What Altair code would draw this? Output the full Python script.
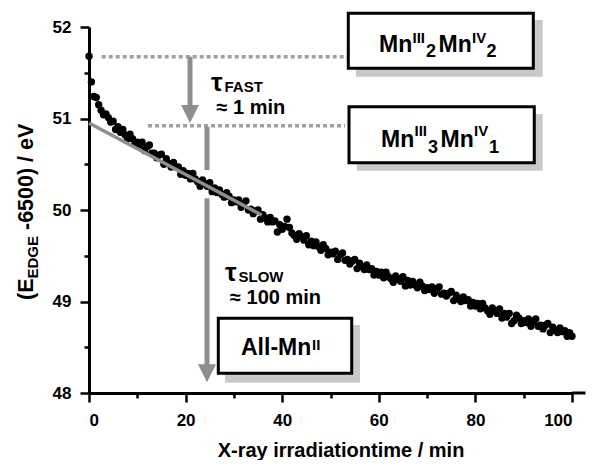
import altair as alt
import pandas as pd

# ---------------- data ----------------
time_min = [
    0.0, 0.5, 1.0, 1.5, 2.0, 2.5, 3.0, 3.5, 4.0, 4.5,
    5.0, 5.5, 6.0, 6.5, 7.0, 7.5, 8.0, 8.5, 9.0, 9.5,
    10.0, 10.5, 11.0, 11.5, 12.0, 12.5, 13.0, 13.5, 14.0, 14.5,
    15.0, 15.5, 16.0, 16.5, 17.0, 17.5, 18.0, 18.5, 19.0, 19.5,
    20.0, 20.5, 21.0, 21.5, 22.0, 22.5, 23.0, 23.5, 24.0, 24.5,
    25.0, 25.5, 26.0, 26.5, 27.0, 27.5, 28.0, 28.5, 29.0, 29.5,
    30.0, 30.5, 31.0, 31.5, 32.0, 32.5, 33.0, 33.5, 34.0, 34.5,
    35.0, 35.5, 36.0, 36.5, 37.0, 37.5, 38.0, 38.5, 39.0, 39.5,
    40.0, 40.5, 41.0, 41.5, 42.0, 42.5, 43.0, 43.5, 44.0, 44.5,
    45.0, 45.5, 46.0, 46.5, 47.0, 47.5, 48.0, 48.5, 49.0, 49.5,
    50.0, 50.5, 51.0, 51.5, 52.0, 52.5, 53.0, 53.5, 54.0, 54.5,
    55.0, 55.5, 56.0, 56.5, 57.0, 57.5, 58.0, 58.5, 59.0, 59.5,
    60.0, 60.5, 61.0, 61.5, 62.0, 62.5, 63.0, 63.5, 64.0, 64.5,
    65.0, 65.5, 66.0, 66.5, 67.0, 67.5, 68.0, 68.5, 69.0, 69.5,
    70.0, 70.5, 71.0, 71.5, 72.0, 72.5, 73.0, 73.5, 74.0, 74.5,
    75.0, 75.5, 76.0, 76.5, 77.0, 77.5, 78.0, 78.5, 79.0, 79.5,
    80.0, 80.5, 81.0, 81.5, 82.0, 82.5, 83.0, 83.5, 84.0, 84.5,
    85.0, 85.5, 86.0, 86.5, 87.0, 87.5, 88.0, 88.5, 89.0, 89.5,
    90.0, 90.5, 91.0, 91.5, 92.0, 92.5, 93.0, 93.5, 94.0, 94.5,
    95.0, 95.5, 96.0, 96.5, 97.0, 97.5, 98.0, 98.5, 99.0, 99.5,
    100.0,
]
e_edge = [
    51.68, 51.40, 51.24, 51.23, 51.15, 51.09, 51.04, 51.05, 51.01, 50.96,
    50.97, 50.88, 50.91, 50.85, 50.88, 50.82, 50.78, 50.83, 50.78, 50.72,
    50.74, 50.71, 50.74, 50.65, 50.69, 50.71, 50.62, 50.62, 50.57, 50.60,
    50.61, 50.50, 50.56, 50.51, 50.47, 50.52, 50.47, 50.47, 50.39, 50.43,
    50.38, 50.40, 50.34, 50.40, 50.34, 50.31, 50.26, 50.33, 50.29, 50.26,
    50.30, 50.20, 50.24, 50.19, 50.22, 50.17, 50.14, 50.19, 50.15, 50.08,
    50.11, 50.09, 50.11, 50.03, 50.07, 50.10, 50.00, 50.01, 49.96, 49.99,
    50.00, 49.90, 49.95, 49.91, 49.87, 49.92, 49.87, 49.88, 49.76, 49.84,
    49.79, 49.82, 49.90, 49.81, 49.75, 49.72, 49.68, 49.74, 49.71, 49.67,
    49.72, 49.62, 49.66, 49.61, 49.65, 49.60, 49.56, 49.62, 49.58, 49.51,
    49.54, 49.52, 49.55, 49.46, 49.51, 49.53, 49.45, 49.46, 49.41, 49.44,
    49.46, 49.36, 49.42, 49.38, 49.35, 49.40, 49.35, 49.36, 49.29, 49.33,
    49.29, 49.32, 49.26, 49.32, 49.27, 49.25, 49.21, 49.28, 49.25, 49.22,
    49.27, 49.17, 49.23, 49.18, 49.22, 49.18, 49.15, 49.21, 49.17, 49.12,
    49.15, 49.13, 49.16, 49.09, 49.14, 49.16, 49.08, 49.09, 49.06, 49.09,
    49.11, 49.01, 49.07, 49.03, 49.00, 49.05, 49.01, 49.02, 48.95, 48.99,
    48.95, 48.98, 48.92, 48.98, 48.93, 48.90, 48.86, 48.93, 48.90, 48.87,
    48.92, 48.82, 48.87, 48.83, 48.87, 48.76, 48.79, 48.85, 48.82, 48.76,
    48.79, 48.77, 48.81, 48.73, 48.78, 48.81, 48.73, 48.74, 48.70, 48.74,
    48.76, 48.66, 48.72, 48.69, 48.66, 48.71, 48.67, 48.68, 48.62, 48.66,
    48.62,
]

fit_time = [0.0, 35.76]
fit_e = [50.95, 49.945]

level_start = 51.675   # Mn(III)2 Mn(IV)2 level
level_fast = 50.921    # Mn(III)3 Mn(IV)1 level

x_all = [0, 10, 20, 30, 40, 50, 60, 70, 80, 90, 100]
y_all = [48, 48.5, 49, 49.5, 50, 50.5, 51, 51.5, 52]

FONT = "Liberation Sans"
GRAY = "#8e8e8e"
DOT_GRAY = "#a0a0a0"
SHADOW = "#c9c9c9"

# ---------------- scales ----------------
xs = alt.Scale(domain=[0, 100], nice=False, zero=False)
ys = alt.Scale(domain=[48, 52], nice=False, zero=False)

pts = pd.DataFrame({"t": time_min, "e": e_edge})
fit = pd.DataFrame({"t": fit_time, "e": fit_e})

x_axis = alt.Axis(
    values=x_all, title=None, grid=False,
    labelExpr="datum.value % 20 === 0 ? format(datum.value, 'd') : ''",
    tickSize={"condition": {"test": "datum.value % 20 === 0", "value": 9}, "value": 5},
    labelPadding=10,
)
y_axis = alt.Axis(
    values=y_all, title=None, grid=False,
    labelExpr="datum.value % 1 === 0 ? format(datum.value, 'd') : ''",
    tickSize={"condition": {"test": "datum.value % 1 === 0", "value": 9}, "value": 5},
    labelPadding=9,
)

points = alt.Chart(pts).mark_circle(size=54, color="black", opacity=1).encode(
    x=alt.X("t:Q", scale=xs, axis=x_axis),
    y=alt.Y("e:Q", scale=ys, axis=y_axis),
)

axis_ext = alt.Chart(pd.DataFrame({"x": [100], "x2": [102.8], "y": [48]})).mark_rule(
    color="black", strokeWidth=3
).encode(x=alt.X("x:Q", scale=xs), x2="x2:Q", y=alt.Y("y:Q", scale=ys))

fit_line = alt.Chart(fit).mark_line(color=GRAY, strokeWidth=3.5).encode(
    x=alt.X("t:Q", scale=xs), y=alt.Y("e:Q", scale=ys)
)

dotted = pd.DataFrame({"x": [2.63, 12.22], "x2": [53.62, 53.0], "y": [level_start, level_fast]})
dotted_lines = alt.Chart(dotted).mark_rule(
    color=DOT_GRAY, strokeWidth=3.5, strokeDash=[4, 3]
).encode(x=alt.X("x:Q", scale=xs), x2="x2:Q", y=alt.Y("y:Q", scale=ys))

shafts = pd.DataFrame({
    "x": [20.91, 24.43, 24.43],
    "y": [level_start, 50.911, 50.128],
    "y2": [51.10, 50.437, 48.30],
})
arrow_shafts = alt.Chart(shafts).mark_rule(color=GRAY, strokeWidth=5).encode(
    x=alt.X("x:Q", scale=xs), y=alt.Y("y:Q", scale=ys), y2="y2:Q"
)
heads = pd.DataFrame({"x": [20.91, 24.43], "y": [51.049, 48.215]})
arrow_heads = alt.Chart(heads).mark_point(
    shape="M-1,-1L1,-1L0,1Z", size=324, filled=True, color=GRAY, opacity=1
).encode(x=alt.X("x:Q", scale=xs), y=alt.Y("y:Q", scale=ys))

boxes = pd.DataFrame({
    "x": [53.68, 53.83, 26.77],
    "x2": [91.99, 92.19, 54.39],
    "y": [52.150, 51.129, 48.816],
    "y2": [51.549, 50.517, 48.215],
})
shadows = pd.DataFrame({
    "x": [55.28, 55.49, 28.16],
    "x2": [93.93, 93.93, 56.11],
    "y": [52.077, 51.049, 48.743],
    "y2": [51.457, 50.430, 48.113],
})
shadow_rects = alt.Chart(shadows).mark_rect(color=SHADOW).encode(
    x=alt.X("x:Q", scale=xs), x2="x2:Q", y=alt.Y("y:Q", scale=ys), y2="y2:Q"
)
box_rects = alt.Chart(boxes).mark_rect(fill="white", stroke="black", strokeWidth=3).encode(
    x=alt.X("x:Q", scale=xs), x2="x2:Q", y=alt.Y("y:Q", scale=ys), y2="y2:Q"
)

anchor = pd.DataFrame({"a": [0]})


def label(txt, px, py, size, angle=0, align="left", weight="bold"):
    # px, py: pixel position relative to the plot origin
    return alt.Chart(anchor).mark_text(
        text=txt, font=FONT, fontSize=size, fontWeight=weight, color="black",
        align=align, baseline="alphabetic", angle=angle,
    ).encode(x=alt.value(px), y=alt.value(py))


texts = [
    # box 1: Mn(III)2 Mn(IV)2
    label("Mn", 290, 24.7, 23), label("III", 323.5, 16, 15), label("2", 337, 29.7, 18),
    label("Mn", 349.5, 24.7, 23), label("IV", 383, 16, 15), label("2", 397.5, 29.7, 18),
    # box 2: Mn(III)3 Mn(IV)1
    label("Mn", 292, 119.7, 23), label("III", 325.5, 109, 15), label("3", 339, 126, 18),
    label("Mn", 351.5, 119.7, 23), label("IV", 385, 109, 15), label("1", 400, 126, 18),
    # box 3: All-Mn(II)
    label("All-Mn", 152, 328, 23), label("II", 223, 323, 15),
    # tau fast
    label("τ", 122, 64, 26), label("FAST", 135.5, 64.5, 15), label("≈ 1 min", 127.5, 86.5, 20),
    # tau slow
    label("τ", 136, 254, 26), label("SLOW", 149.5, 254.5, 15), label("≈ 100 min", 141, 276.5, 20),
    # x title
    label("X-ray irradiationtime / min", 252, 430, 20, align="center"),
    # y title (rotated)
    label("(E", -56, 273, 21.5, angle=270),
    label("EDGE", -51, 251.5, 15, angle=270),
    label("-6500) / eV", -56, 203, 21.5, angle=270),
]

chart = alt.layer(
    dotted_lines, arrow_shafts, arrow_heads, shadow_rects, box_rects,
    points, fit_line, axis_ext, *texts,
).properties(
    width=483, height=366,
    padding={"left": 81, "top": 19, "right": 14, "bottom": 67},
    autosize=alt.AutoSizeParams(type="none"),
).configure_view(stroke=None).configure_axis(
    labelFont=FONT, labelFontSize=17, labelFontWeight="bold", labelColor="black",
    domainColor="black", domainWidth=3, tickColor="black", tickWidth=2.5,
)

chart.save("out.html", embed_options={"renderer": "svg", "actions": False})
